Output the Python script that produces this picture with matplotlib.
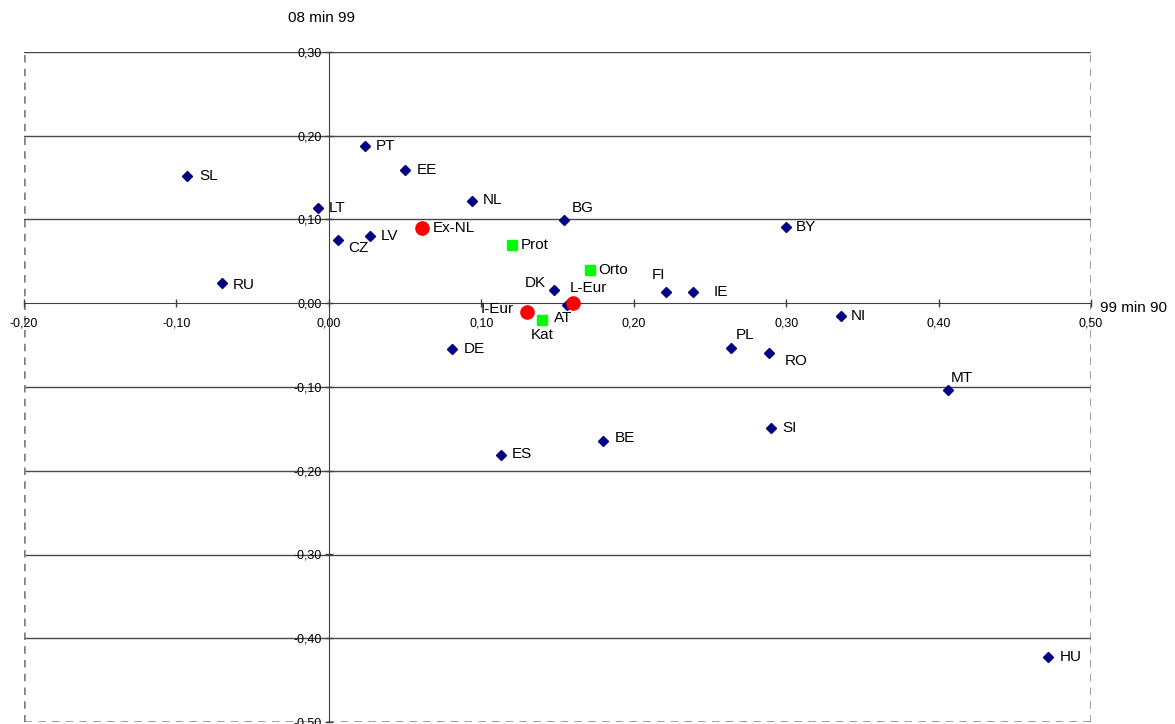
"""Scatter: change 99-90 vs 08-99"""
import matplotlib.pyplot as plt
import matplotlib.ticker as ticker

# ── 국가 데이터 ──
countries = ["SL", "PT", "EE", "NL", "LT", "BG", "BY", "CZ", "LV", "RU",
             "DK", "FI", "IE", "AT", "NI", "DE", "PL", "RO", "MT", "SI",
             "BE", "ES", "HU"]
x_country = [-0.093, 0.024, 0.050, 0.094, -0.007, 0.154, 0.300, 0.006, 0.027, -0.070,
             0.148, 0.221, 0.239, 0.156, 0.336, 0.081, 0.264, 0.289, 0.406, 0.290,
             0.180, 0.113, 0.472]
y_country = [0.152, 0.188, 0.159, 0.122, 0.114, 0.099, 0.091, 0.076, 0.080, 0.024,
             0.016, 0.013, 0.013, -0.002, -0.015, -0.055, -0.053, -0.059, -0.104, -0.149,
             -0.165, -0.181, -0.422]

# ── 그룹 데이터 ──
groups_red = ["Ex-NL", "L-Eur", "I-Eur"]
x_red = [0.061, 0.160, 0.130]
y_red = [0.090, 0.000, -0.011]

groups_green = ["Prot", "Orto", "Kat"]
x_green = [0.120, 0.171, 0.140]
y_green = [0.070, 0.040, -0.020]

# 라벨 오프셋 (pixels) 및 정렬
label_offset = {
    "SL": (12, 0), "PT": (10, 0), "EE": (12, 0), "NL": (11, 1), "LT": (11, 0),
    "BG": (8, 12), "BY": (10, 0), "CZ": (10, -8), "LV": (11, 0), "RU": (11, -2),
    "DK": (-9, 7, "right"), "FI": (-14, 17), "IE": (20, 0), "AT": (-13, -13),
    "NI": (10, 0), "DE": (11, 0), "PL": (4, 13), "RO": (15, -8), "MT": (3, 12),
    "SI": (11, 0), "BE": (12, 3), "ES": (11, 1), "HU": (11, 0),
    "Ex-NL": (11, 0), "L-Eur": (-3, 15), "I-Eur": (-13, 3, "right"),
    "Prot": (9, 0), "Orto": (9, 0), "Kat": (-12, -15),
}

plt.rcParams["font.family"] = ["Liberation Sans", "DejaVu Sans"]

fig = plt.figure(figsize=(11.75, 7.24), dpi=100)
ax = fig.add_axes([24 / 1175, 1 - 722 / 724, (1091 - 24) / 1175, (722 - 52) / 724])

ax.set_xlim(-0.2, 0.5)
ax.set_ylim(-0.5, 0.3)

# 격자선
for yv in [-0.4, -0.3, -0.2, -0.1, 0.1, 0.2, 0.3]:
    ax.axhline(yv, color="#484848", linewidth=1.0, zorder=1)

# 점선 테두리
for s in ["top", "right"]:
    ax.spines[s].set_visible(False)
dash = (0, (3, 2.5))
ax.axvline(-0.2, color="#808080", linestyle=dash, linewidth=1.8, zorder=1)
ax.axvline(0.5, color="#808080", linestyle=dash, linewidth=1.8, zorder=1)
ax.axhline(-0.5, color="#808080", linestyle=dash, linewidth=1.8, zorder=1)

# 축을 0에 배치
ax.spines["left"].set_position(("data", 0))
ax.spines["bottom"].set_position(("data", 0))
ax.spines["left"].set_color("#404040")
ax.spines["bottom"].set_color("#404040")

ax.xaxis.set_major_locator(ticker.MultipleLocator(0.1))
ax.yaxis.set_major_locator(ticker.MultipleLocator(0.1))
fmt = ticker.FuncFormatter(lambda v, p: f"{v:.2f}".replace(".", ",").replace("-0,00", "0,00"))
ax.xaxis.set_major_formatter(fmt)
ax.yaxis.set_major_formatter(fmt)
ax.tick_params(axis="both", direction="inout", length=6, width=1, color="#404040",
               labelsize=9, pad=2)
ax.tick_params(axis="x", pad=7)

# 마커
ax.plot(x_country, y_country, "D", color="#000080", markersize=5, zorder=3, clip_on=False)
ax.plot(x_red, y_red, "o", color="#ff0000", markersize=9.5, zorder=4)
ax.plot(x_green, y_green, "s", color="#00ff00", markersize=6.5, zorder=4)

all_names = countries + groups_red + groups_green
all_x = x_country + x_red + x_green
all_y = y_country + y_red + y_green
for name, xv, yv in zip(all_names, all_x, all_y):
    off = label_offset[name]
    ha = off[2] if len(off) > 2 else "left"
    ax.annotate(name, xy=(xv, yv), xytext=(off[0], off[1]), textcoords="offset pixels",
                ha=ha, va="center", fontsize=11, zorder=5)

# 축 제목
fig.text(288 / 1175, 1 - 18 / 724, "08 min 99", fontsize=11, va="center", ha="left")
fig.text(1100 / 1175, 1 - 308 / 724, "99 min 90", fontsize=11, va="center", ha="left")

plt.savefig("out.png", dpi=100)
plt.close()
